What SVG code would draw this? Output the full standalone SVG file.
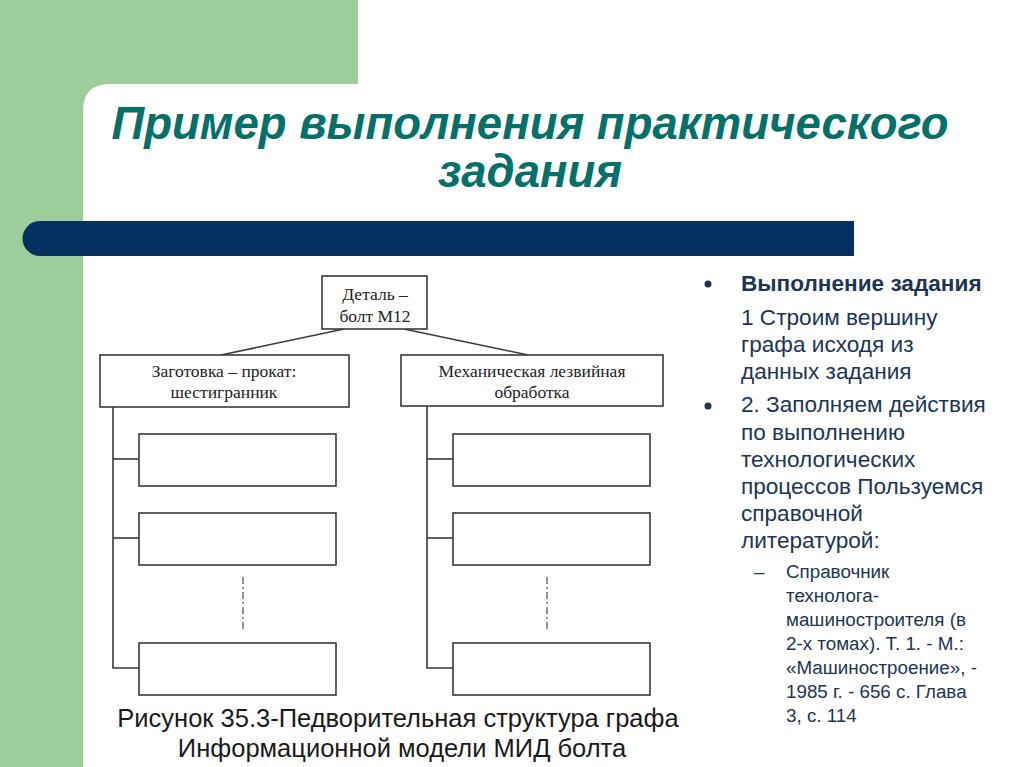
<svg xmlns="http://www.w3.org/2000/svg" width="1024" height="767" viewBox="0 0 1024 767">
<style>
.title{font-family:"Liberation Sans",Arial,sans-serif;font-weight:bold;font-style:italic;font-size:45.5px;fill:#04706a;text-anchor:middle}
.box{fill:#fff;stroke:#3a3a3a;stroke-width:1.6}
.ln{stroke:#3a3a3a;stroke-width:1.6;fill:none}
.dd{stroke:#555;stroke-width:1.3;stroke-dasharray:7 3 2 3;fill:none}
.nt{font-family:"Liberation Serif","Times New Roman",serif;font-size:17.5px;fill:#222;text-anchor:middle}
.bt{font-family:"Liberation Sans",Arial,sans-serif;font-size:22.6px;fill:#1c3557}
.st{font-family:"Liberation Sans",Arial,sans-serif;font-size:18.8px;fill:#1c3557}
.cap{font-family:"Liberation Sans",Arial,sans-serif;font-size:25.5px;fill:#1a1a1a;text-anchor:middle}
</style>
<rect x="0" y="0" width="1024" height="767" fill="#fff"/>
<g id="background">
<rect x="0" y="0" width="358" height="130" fill="#9dcd9a"/>
<rect x="0" y="0" width="83" height="767" fill="#9dcd9a"/>
<path d="M83 767 V111 Q83 84 110 84 H1024 V767 Z" fill="#fff"/>
<path d="M40 221 H854 V256 H40 A17.5 17.5 0 0 1 40 221 Z" fill="#05305f"/>
</g>
<g id="title">
<text class="title" x="530" y="139">Пример выполнения практического</text>
<text class="title" x="530" y="187">задания</text>
</g>
<g id="connectors">
<line class="ln" x1="344" y1="329" x2="221" y2="355"/>
<line class="ln" x1="404" y1="329" x2="528" y2="355"/>
<polyline class="ln" points="113,407 113,668 139,668"/>
<line class="ln" x1="113" y1="459" x2="139" y2="459"/>
<line class="ln" x1="113" y1="538" x2="139" y2="538"/>
<polyline class="ln" points="427,406 427,668 453,668"/>
<line class="ln" x1="427" y1="459" x2="453" y2="459"/>
<line class="ln" x1="427" y1="538" x2="453" y2="538"/>
<line class="dd" x1="243" y1="577" x2="243" y2="630"/>
<line class="dd" x1="547" y1="577" x2="547" y2="630"/>
</g>
<g id="node-root">
<rect class="box" x="322" y="276" width="105" height="53"/>
<text class="nt" x="375" y="300">Деталь –</text>
<text class="nt" x="375" y="322">болт М12</text>
</g>
<g id="node-left">
<rect class="box" x="100" y="355" width="249" height="52"/>
<text class="nt" x="224" y="377">Заготовка – прокат:</text>
<text class="nt" x="224" y="398">шестигранник</text>
</g>
<g id="node-right">
<rect class="box" x="401" y="355" width="262" height="51"/>
<text class="nt" x="532" y="377">Механическая лезвийная</text>
<text class="nt" x="532" y="398">обработка</text>
</g>
<g id="node-l1"><rect class="box" x="139" y="434" width="197" height="52"/></g>
<g id="node-l2"><rect class="box" x="139" y="513" width="197" height="52"/></g>
<g id="node-l3"><rect class="box" x="139" y="643" width="197" height="52"/></g>
<g id="node-r1"><rect class="box" x="453" y="434" width="197" height="52"/></g>
<g id="node-r2"><rect class="box" x="453" y="513" width="197" height="52"/></g>
<g id="node-r3"><rect class="box" x="453" y="643" width="197" height="52"/></g>
<g id="bullets">
<circle cx="708" cy="284" r="3.5" fill="#1c3557"/>
<text class="bt" x="741" y="291" font-weight="bold" font-size="21px">Выполнение задания</text>
<text class="bt" x="741" y="325">1 Строим вершину</text>
<text class="bt" x="741" y="352">графа исходя из</text>
<text class="bt" x="741" y="379">данных задания</text>
<circle cx="708" cy="406" r="3.5" fill="#1c3557"/>
<text class="bt" x="741" y="412">2. Заполняем действия</text>
<text class="bt" x="741" y="440">по выполнению</text>
<text class="bt" x="741" y="467">технологических</text>
<text class="bt" x="741" y="494">процессов Пользуемся</text>
<text class="bt" x="741" y="521">справочной</text>
<text class="bt" x="741" y="548">литературой:</text>
<text class="st" x="754" y="578">–</text>
<text class="st" x="786" y="578">Справочник</text>
<text class="st" x="786" y="602">технолога-</text>
<text class="st" x="786" y="626">машиностроителя (в</text>
<text class="st" x="786" y="650">2-х томах). Т. 1. - М.:</text>
<text class="st" x="786" y="674">«Машиностроение», -</text>
<text class="st" x="786" y="698">1985 г. - 656 с. Глава</text>
<text class="st" x="786" y="722">3, с. 114</text>
</g>
<g id="caption">
<text class="cap" x="398" y="727">Рисунок 35.3-Педворительная структура графа</text>
<text class="cap" x="402" y="757">Информационной модели МИД болта</text>
</g>
</svg>
